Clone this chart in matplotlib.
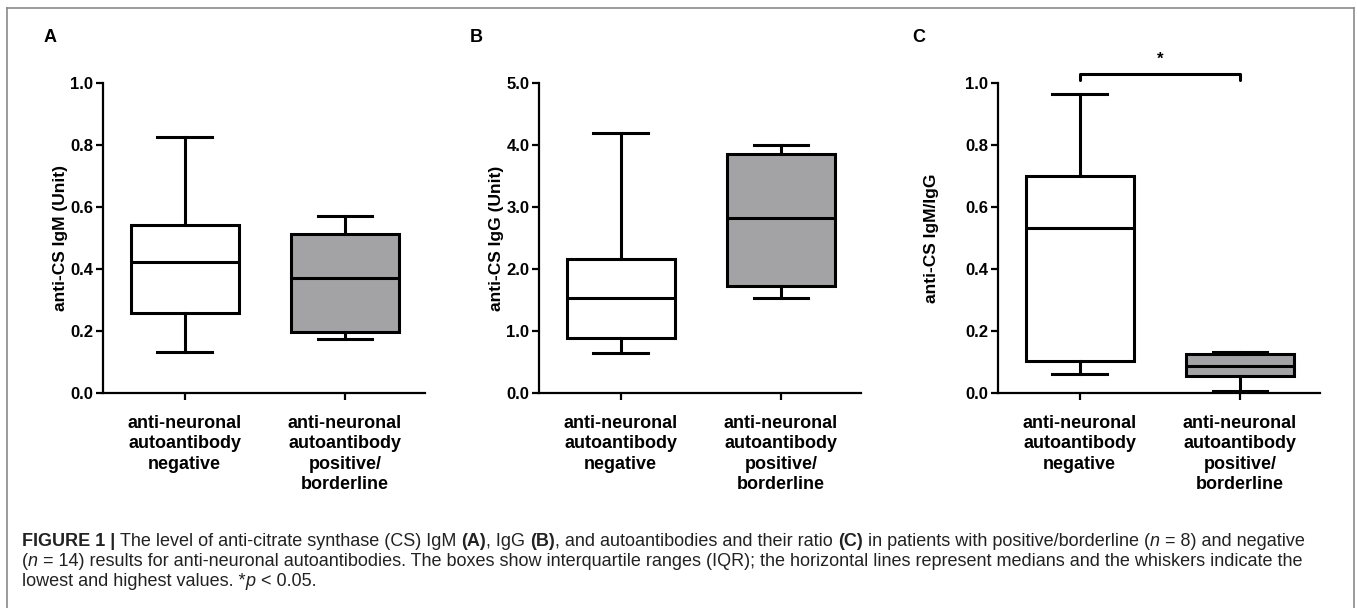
import matplotlib
matplotlib.use("Agg")
import matplotlib.pyplot as plt
from matplotlib.lines import Line2D

plt.rcParams['font.family'] = ['Liberation Sans', 'DejaVu Sans']

# box stats: (min, q1, median, q3, max)
groups = ['anti-neuronal\nautoantibody\nnegative',
          'anti-neuronal\nautoantibody\npositive/\nborderline']
igm_neg = [0.132, 0.258, 0.422, 0.542, 0.826]
igm_pos = [0.174, 0.196, 0.371, 0.512, 0.571]
igg_neg = [0.65, 0.88, 1.53, 2.16, 4.19]
igg_pos = [1.53, 1.72, 2.83, 3.85, 4.00]
ratio_neg = [0.061, 0.103, 0.533, 0.700, 0.965]
ratio_pos = [0.008, 0.056, 0.088, 0.125, 0.132]

panels = [
    ('A', 'anti-CS IgM (Unit)', igm_neg, igm_pos, 1.0, [0.0, 0.2, 0.4, 0.6, 0.8, 1.0]),
    ('B', 'anti-CS IgG (Unit)', igg_neg, igg_pos, 5.0, [0.0, 1.0, 2.0, 3.0, 4.0, 5.0]),
    ('C', 'anti-CS IgM/IgG', ratio_neg, ratio_pos, 1.0, [0.0, 0.2, 0.4, 0.6, 0.8, 1.0]),
]
box_colors = ['white', '#a3a3a6']

W, H = 1357, 608
fig = plt.figure(figsize=(W / 100, H / 100), dpi=100)

# frame around the figure
frame_kw = dict(color='#8a8a8a', lw=1.2, transform=fig.transFigure)
fig.add_artist(Line2D([7 / W, 7 / W], [0, 1 - 8 / H], **frame_kw))
fig.add_artist(Line2D([7 / W, 1354 / W], [1 - 8 / H, 1 - 8 / H], **frame_kw))
fig.add_artist(Line2D([1354 / W, 1354 / W], [0, 1 - 8 / H], **frame_kw))

axes_left = [103, 539, 998]
label_x = [44, 470, 912]
ylab_pad = [2, 2, 19]
ax_w = 322
ax_top, ax_bot = 83, 393

for i, (letter, ylab, neg, pos, ymax, yt) in enumerate(panels):
    ax = fig.add_axes([axes_left[i] / W, 1 - ax_bot / H, ax_w / W, (ax_bot - ax_top) / H])
    stats = []
    for d in (neg, pos):
        stats.append(dict(whislo=d[0], q1=d[1], med=d[2], q3=d[3], whishi=d[4], fliers=[]))
    bp = ax.bxp(stats, positions=[1, 2], widths=0.675, patch_artist=True,
                showfliers=False,
                boxprops=dict(lw=2.2, edgecolor='black'),
                medianprops=dict(color='black', lw=2.2),
                whiskerprops=dict(color='black', lw=2.2),
                capprops=dict(color='black', lw=2.2),
                capwidths=0.34)
    for patch, c in zip(bp['boxes'], box_colors):
        patch.set_facecolor(c)
    ax.set_xlim(0.49, 2.5)
    ax.set_ylim(0, ymax)
    ax.set_yticks(yt)
    ax.set_yticklabels(['%.1f' % v for v in yt])
    ax.set_xticks([1, 2])
    ax.set_xticklabels(groups, fontsize=13, fontweight='bold', linespacing=1.25, va='top')
    for s in ('top', 'right'):
        ax.spines[s].set_visible(False)
    for s in ('left', 'bottom'):
        ax.spines[s].set_linewidth(1.6)
    ax.tick_params(axis='y', direction='out', length=5, width=1.6, labelsize=12, pad=2)
    ax.tick_params(axis='x', direction='out', length=5, width=1.6, pad=11)
    for t in ax.get_yticklabels():
        t.set_fontweight('bold')
    ax.set_ylabel(ylab, fontsize=12.5, fontweight='bold', labelpad=ylab_pad[i])
    ax.patch.set_alpha(0)
    fig.text(label_x[i] / W, 1 - 38 / H, letter, fontsize=13, fontweight='bold', va='center')

    if letter == 'C':
        yb = 1.03 * ymax
        ax.plot([1, 1, 2, 2], [1.01, yb, yb, 1.01], color='black', lw=2.2,
                clip_on=False, solid_capstyle='round')
        ax.text(1.5, 1.075, '*', ha='center', va='center', fontsize=12, fontweight='bold')

# caption with mixed styles
caption = [
    [('FIGURE 1 | ', 'bold'), ('The level of anti-citrate synthase (CS) IgM ', 'normal'), ('(A)', 'bold'),
     (', IgG ', 'normal'), ('(B)', 'bold'), (', and autoantibodies and their ratio ', 'normal'),
     ('(C)', 'bold'), (' in patients with positive/borderline (', 'normal'), ('n', 'italic'),
     (' = 8) and negative', 'normal')],
    [('(', 'normal'), ('n', 'italic'),
     (' = 14) results for anti-neuronal autoantibodies. The boxes show interquartile ranges (IQR); '
      'the horizontal lines represent medians and the whiskers indicate the', 'normal')],
    [('lowest and highest values. *', 'normal'), ('p', 'italic'), (' < 0.05.', 'normal')],
]
fig.canvas.draw()
renderer = fig.canvas.get_renderer()
line_y = [541, 561.5, 582]
for runs, yy in zip(caption, line_y):
    x = 22
    for txt, style in runs:
        kw = dict(fontsize=13, va='center', ha='left', color='#222222')
        if style == 'bold':
            kw['fontweight'] = 'bold'
        if style == 'italic':
            kw['fontstyle'] = 'italic'
        t = fig.text(x / W, 1 - yy / H, txt, **kw)
        bb = t.get_window_extent(renderer)
        x += bb.width

fig.savefig('out.png', dpi=100)
